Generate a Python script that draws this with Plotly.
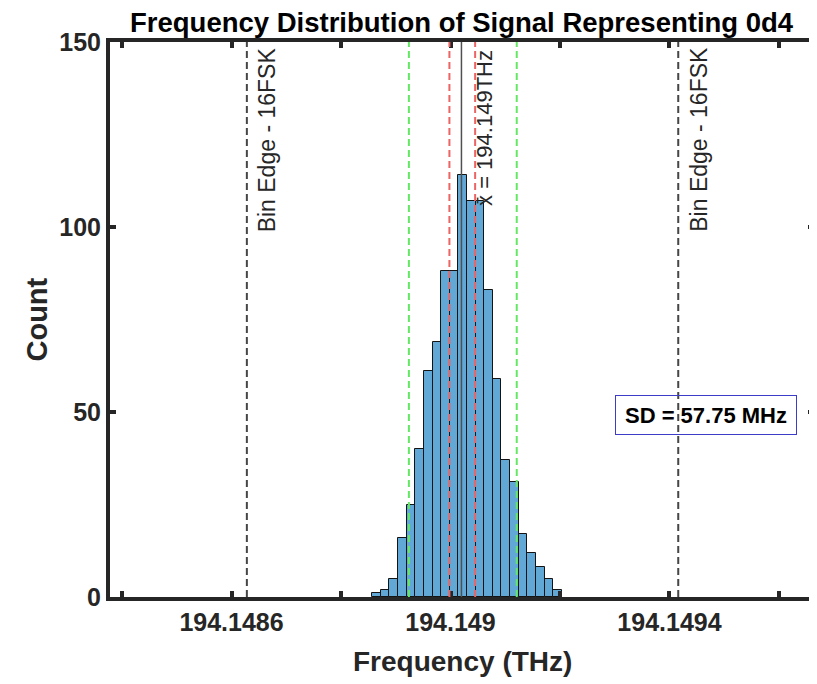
import plotly.graph_objects as go

# histogram of the measured frequency (THz)
bin_start = 194.148857      # left edge of the first bin
bin_width = 0.00001574
counts = [1, 2, 5, 16, 25, 40, 61, 69, 88, 88, 114, 107, 107, 83, 59, 37, 31, 17, 12, 8, 5, 2]

mean_freq = 194.14902
bin_edges_16fsk = [194.148628, 194.149416]
red_lines = [194.148998, 194.149045]
green_lines = [194.148924, 194.149121]

x_tickvals = [194.1484, 194.1486, 194.1488, 194.149, 194.1492, 194.1494, 194.1496]
x_ticktext = ["", "194.1486", "", "194.149", "", "194.1494", ""]
y_tickvals = [0, 50, 100, 150]

sd_text = "SD = 57.75 MHz"
title_text = "Frequency Distribution of Signal Representing 0d4"

FONT = "Liberation Sans, Arial, sans-serif"
DARK = "rgb(38,38,38)"

centers = [bin_start + bin_width * (i + 0.5) for i in range(len(counts))]

fig = go.Figure()
fig.add_trace(go.Bar(
    x=centers, y=counts, width=bin_width,
    marker=dict(color="rgba(0,114,189,0.62)", line=dict(color="rgb(20,20,20)", width=1)),
    showlegend=False,
))

for xv in bin_edges_16fsk:
    fig.add_vline(x=xv, line=dict(color="rgb(70,70,70)", width=2, dash="7px,4px"))
    fig.add_annotation(x=xv, y=1, xref="x", yref="paper", text="Bin Edge - 16FSK",
                       textangle=-90, xanchor="left", yanchor="top", xshift=5, yshift=-3,
                       showarrow=False, font=dict(family=FONT, size=23, color=DARK))
for xv in green_lines:
    fig.add_vline(x=xv, line=dict(color="rgb(100,232,100)", width=2, dash="7px,4px"))
for xv in red_lines:
    fig.add_vline(x=xv, line=dict(color="rgb(236,100,100)", width=2, dash="7px,4px"))

fig.add_vline(x=mean_freq, line=dict(color="rgb(80,80,80)", width=1.5))
fig.add_annotation(x=mean_freq, y=1, xref="x", yref="paper", text="x\u0304 = 194.149THz",
                   textangle=-90, xanchor="left", yanchor="top", xshift=8, yshift=-6,
                   showarrow=False, font=dict(family=FONT, size=22, color=DARK))

fig.add_annotation(x=194.149467, y=49.3, xref="x", yref="y", text=sd_text,
                   showarrow=False, bordercolor="rgb(60,60,200)", borderwidth=1,
                   borderpad=2, width=176, height=34,
                   font=dict(family=FONT, size=22, color="black", weight="bold"))

# title and axis labels
fig.add_annotation(x=0.5, y=1, xref="paper", yref="paper", text=title_text,
                   xanchor="center", yanchor="top", yshift=37, showarrow=False,
                   font=dict(family=FONT, size=27.5, color="black", weight="bold"))
fig.add_annotation(x=0.5, y=0, xref="paper", yref="paper", text="Frequency (THz)",
                   xanchor="center", yanchor="middle", yshift=-64, showarrow=False,
                   font=dict(family=FONT, size=28, color=DARK, weight="bold"))
fig.add_annotation(x=0, y=0.5, xref="paper", yref="paper", text="Count",
                   textangle=-90, xanchor="center", yanchor="middle", xshift=-74,
                   showarrow=False, font=dict(family=FONT, size=29, color=DARK, weight="bold"))

axis_common = dict(
    showline=True, linewidth=4, linecolor=DARK, mirror="allticks",
    ticks="inside", ticklen=6, tickwidth=4, tickcolor=DARK,
    showgrid=False, zeroline=False,
    tickfont=dict(family=FONT, size=25, color=DARK, weight="bold"),
)
fig.update_xaxes(range=[194.148378, 194.149664], tickmode="array",
                 tickvals=x_tickvals, ticktext=x_ticktext, **axis_common)
fig.update_yaxes(range=[0, 150], tickmode="array", tickvals=y_tickvals, **axis_common)

fig.update_layout(
    width=817, height=684,
    margin=dict(l=102, r=7, t=34, b=95),
    plot_bgcolor="white", paper_bgcolor="white",
    bargap=0,
)
fig.write_html("out.html")
